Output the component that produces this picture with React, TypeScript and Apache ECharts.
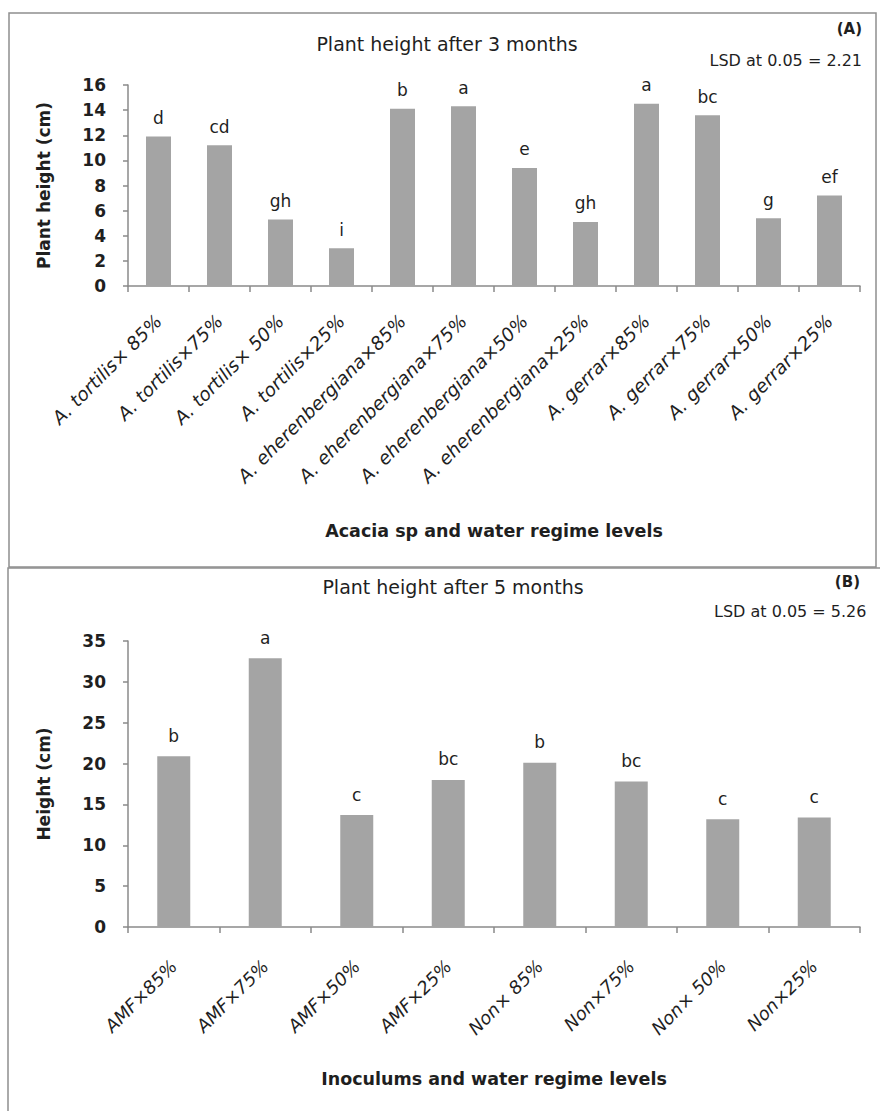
import React, { useEffect, useRef } from "react";
import * as echarts from "echarts";

const categoriesA = [
  "A. tortilis× 85%",
  "A. tortilis×75%",
  "A. tortilis× 50%",
  "A. tortilis×25%",
  "A. eherenbergiana×85%",
  "A. eherenbergiana×75%",
  "A. eherenbergiana×50%",
  "A. eherenbergiana×25%",
  "A. gerrar×85%",
  "A. gerrar×75%",
  "A. gerrar×50%",
  "A. gerrar×25%",
];
const valuesA = [11.9, 11.2, 5.3, 3.0, 14.1, 14.3, 9.4, 5.1, 14.5, 13.6, 5.4, 7.2];
const lettersA = ["d", "cd", "gh", "i", "b", "a", "e", "gh", "a", "bc", "g", "ef"];

const categoriesB = [
  "AMF×85%",
  "AMF×75%",
  "AMF×50%",
  "AMF×25%",
  "Non× 85%",
  "Non×75%",
  "Non× 50%",
  "Non×25%",
];
const valuesB = [20.9, 32.9, 13.7, 18.0, 20.1, 17.8, 13.2, 13.4];
const lettersB = ["b", "a", "c", "bc", "b", "bc", "c", "c"];

const FONT = "DejaVu Sans";
const TEXT = "#1f1f1f";
const AXIS = "#8a8a8a";
const BAR = "#a4a4a4";

export default function App() {
  const ref = useRef<HTMLDivElement>(null);
  useEffect(() => {
    if (!ref.current) return;
    const chart = echarts.init(ref.current, undefined, { renderer: "svg" });
    const yAxisCommon = (min: number, max: number, interval: number, name: string, gap: number) => ({
      type: "value",
      min,
      max,
      interval,
      name,
      nameLocation: "middle",
      nameGap: gap,
      nameRotate: 90,
      nameTextStyle: { fontFamily: FONT, fontSize: 17, fontWeight: "bold", color: TEXT },
      axisLine: { show: true, lineStyle: { color: AXIS, width: 1.5 } },
      axisTick: { show: true, length: 5, lineStyle: { color: AXIS, width: 1.5 } },
      axisLabel: { fontFamily: FONT, fontSize: 17, fontWeight: "bold", color: TEXT, margin: 22 },
      splitLine: { show: false },
    });
    const xAxisCommon = (data: string[], name: string, gap: number, fs: number, margin: number) => ({
      type: "category",
      data,
      name,
      nameLocation: "middle",
      nameGap: gap,
      nameTextStyle: { fontFamily: FONT, fontSize: 17.5, fontWeight: "bold", color: TEXT },
      axisLine: { show: true, lineStyle: { color: AXIS, width: 1.5 } },
      axisTick: { show: true, alignWithLabel: false, length: 6, lineStyle: { color: AXIS, width: 1.5 } },
      axisLabel: {
        rotate: 45,
        interval: 0,
        fontFamily: FONT,
        fontSize: fs,
        fontStyle: "italic",
        color: TEXT,
        margin,
      },
    });
    chart.setOption({
      animation: false,
      backgroundColor: "#ffffff",
      textStyle: { fontFamily: FONT },
      grid: [
        { left: 128, top: 85, width: 732, height: 201, containLabel: false },
        { left: 128, top: 641, width: 732, height: 286, containLabel: false },
      ],
      xAxis: [
        { ...xAxisCommon(categoriesA, "Acacia sp and water regime levels", 236, 18.5, 32), gridIndex: 0 },
        { ...xAxisCommon(categoriesB, "Inoculums and water regime levels", 143, 18, 36), gridIndex: 1 },
      ],
      yAxis: [
        { ...yAxisCommon(0, 16, 2, "Plant height (cm)", 76), gridIndex: 0 },
        { ...yAxisCommon(0, 35, 5, "Height (cm)", 76), gridIndex: 1 },
      ],
      series: [
        {
          type: "bar",
          xAxisIndex: 0,
          yAxisIndex: 0,
          data: valuesA,
          barWidth: 25,
          itemStyle: { color: BAR },
          label: {
            show: true,
            position: "top",
            distance: 10,
            fontFamily: FONT,
            fontSize: 17,
            color: TEXT,
            formatter: (p: any) => lettersA[p.dataIndex],
          },
        },
        {
          type: "bar",
          xAxisIndex: 1,
          yAxisIndex: 1,
          data: valuesB,
          barWidth: 33,
          itemStyle: { color: BAR },
          label: {
            show: true,
            position: "top",
            distance: 12,
            fontFamily: FONT,
            fontSize: 17,
            color: TEXT,
            formatter: (p: any) => lettersB[p.dataIndex],
          },
        },
      ],
      graphic: [
        {
          type: "rect",
          shape: { x: 9, y: 13, width: 867, height: 554 },
          style: { fill: "none", stroke: "#8f8f8f", lineWidth: 1.5 },
          silent: true,
        },
        {
          type: "rect",
          shape: { x: 8, y: 568, width: 900, height: 600 },
          style: { fill: "none", stroke: "#8f8f8f", lineWidth: 1.5 },
          silent: true,
        },
        {
          type: "text",
          x: 447,
          y: 44,
          style: { text: "Plant height after 3 months", fontFamily: FONT, fontSize: 19, fill: TEXT, align: "center", verticalAlign: "middle" },
        },
        {
          type: "text",
          x: 862,
          y: 29,
          style: { text: "(A)", fontFamily: FONT, fontSize: 15, fontWeight: "bold", fill: TEXT, align: "right", verticalAlign: "middle" },
        },
        {
          type: "text",
          x: 862,
          y: 60,
          style: { text: "LSD at 0.05 = 2.21", fontFamily: FONT, fontSize: 16, fill: TEXT, align: "right", verticalAlign: "middle" },
        },
        {
          type: "text",
          x: 453,
          y: 587,
          style: { text: "Plant height after 5 months", fontFamily: FONT, fontSize: 19, fill: TEXT, align: "center", verticalAlign: "middle" },
        },
        {
          type: "text",
          x: 860,
          y: 582,
          style: { text: "(B)", fontFamily: FONT, fontSize: 15, fontWeight: "bold", fill: TEXT, align: "right", verticalAlign: "middle" },
        },
        {
          type: "text",
          x: 714,
          y: 611,
          style: { text: "LSD at 0.05 = 5.26", fontFamily: FONT, fontSize: 16, fill: TEXT, align: "left", verticalAlign: "middle" },
        },
      ],
    });
    return () => chart.dispose();
  }, []);
  return (
    <div
      ref={ref}
      style={{ position: "absolute", left: 0, top: 0, width: 880, height: 1111 }}
    />
  );
}
